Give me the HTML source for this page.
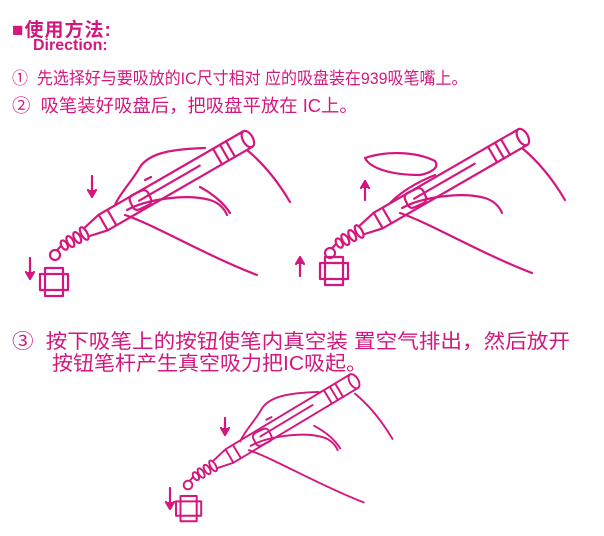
<!DOCTYPE html><html><head><meta charset="utf-8"><style>
body{margin:0;width:604px;height:536px;background:#fff;overflow:hidden;position:relative;font-family:"Liberation Sans","Noto Sans CJK SC",sans-serif;color:#d4177e}
.t{position:absolute;white-space:nowrap;transform-origin:0 0}
</style></head><body>
<div class="t" style="left:12px;top:15px;font-size:19px;font-weight:bold;letter-spacing:1px">■使用方法:</div>
<div class="t" style="left:33px;top:37px;font-size:16px;font-weight:bold">Direction:</div>
<div class="t" style="left:12px;top:64px;font-size:17px;transform:scaleX(0.94)">①&nbsp; 先选择好与要吸放的IC尺寸相对 应的吸盘装在939吸笔嘴上。</div>
<div class="t" style="left:12px;top:92px;font-size:18px;transform:scaleX(1.02)">②&nbsp; 吸笔装好吸盘后，把吸盘平放在 IC上。</div>
<div class="t" style="left:12px;top:325px;font-size:20px;transform:scaleX(1.08)">③&nbsp; 按下吸笔上的按钮使笔内真空装 置空气排出，然后放开</div>
<div class="t" style="left:52px;top:347px;font-size:20px;transform:scaleX(1.05)">按钮笔杆产生真空吸力把IC吸起。</div>
<svg width="604" height="536" style="position:absolute;left:0;top:0" fill="none" stroke="#d4177e" stroke-width="2.2" stroke-linecap="round" stroke-linejoin="round">
<defs>
<g id="pen">
<circle cx="0" cy="0" r="5"/>
<path d="M4,-3 l6,-2"/>
<ellipse cx="13" cy="-4" rx="3" ry="5"/>
<ellipse cx="20" cy="-4" rx="3" ry="6"/>
<ellipse cx="28" cy="-4" rx="3" ry="6"/>
<ellipse cx="36" cy="-4" rx="3" ry="7"/>
<path d="M40,-9 L58,-13 L225,-13 M40,1 L58,5 L225,5 M58,-13 L58,5 M68,-13 L68,5"/>
<path d="M190,-13 L190,5 M198,-13 L198,5 M205,-13 L205,5"/>
<ellipse cx="225" cy="-4" rx="5" ry="9"/>
<path d="M100,-5 L170,-5"/>
</g>
<g id="hand">
<path d="M60,-50 C65,-62 78,-75 85,-88 C95,-103 120,-106 150,-107"/>
<path d="M90,-75 l6,-3"/>
<path d="M72,-45 C90,-55 130,-62 155,-55 C165,-52 170,-45 172,-40"/>
<path d="M145,-68 C160,-60 170,-50 175,-42"/>
<path d="M70,-40 C100,-30 150,0 202,20"/>
<rect x="0" y="0" width="20" height="16" rx="5" transform="translate(73,-58) rotate(-25)"/>
<path d="M192,-105 C210,-90 225,-70 235,-53"/>
</g>
<g id="ic"><rect x="5" y="0" width="18" height="28"/><rect x="0" y="6" width="28" height="16"/></g>
</defs>
<g transform="translate(55,255)"><use href="#pen" transform="rotate(-30)"/><use href="#hand"/></g>
<use href="#ic" transform="translate(40,268)"/>
<path d="M30,258 v20 M26,272 l4,7 l4,-7" fill="#d4177e"/>
<path d="M92,176 v20 M88,190 l4,7 l4,-7" fill="#d4177e"/>
<g transform="translate(330,253)"><use href="#pen" transform="rotate(-30)"/>
<path d="M60,-50 C70,-60 85,-70 105,-78"/>
<path d="M72,-45 C90,-55 130,-62 155,-55 C165,-52 170,-45 172,-40"/>
<path d="M70,-40 C100,-30 150,0 202,20"/>
<rect x="0" y="0" width="20" height="16" rx="5" transform="translate(73,-58) rotate(-25)"/>
<path d="M192,-105 C210,-90 225,-70 235,-53"/>
<path d="M35,-95 C55,-102 85,-102 105,-92 C110,-85 100,-80 90,-78 C60,-78 40,-85 35,-95z"/>
</g>
<use href="#ic" transform="translate(320,257)"/>
<path d="M300,276 v-18 M296,264 l4,-7 l4,7" fill="#d4177e"/>
<path d="M365,200 v-18 M361,188 l4,-7 l4,7" fill="#d4177e"/>
<g transform="translate(188,485) scale(0.87)"><use href="#pen" transform="rotate(-31)"/><use href="#hand"/></g>
<use href="#ic" transform="translate(176,496) scale(0.9)"/>
<path d="M170,488 v20 M166,502 l4,7 l4,-7" fill="#d4177e"/>
<path d="M225,418 v16 M221,428 l4,7 l4,-7" fill="#d4177e"/>
</svg>
</body></html>
